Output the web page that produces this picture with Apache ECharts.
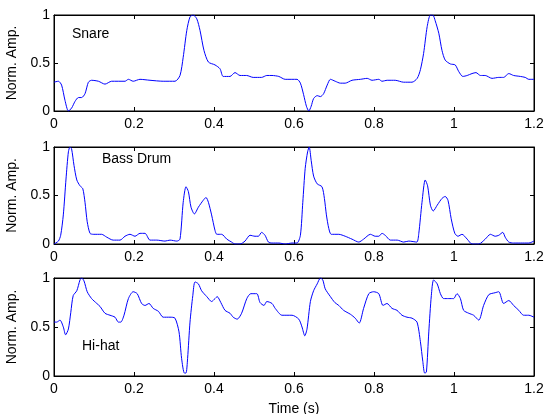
<!DOCTYPE html>
<html>
<head>
<meta charset="utf-8">
<script src="https://cdn.jsdelivr.net/npm/echarts@6/dist/echarts.min.js"></script>
<style>
html,body{margin:0;padding:0;background:#fff;}
#chart{width:544px;height:414px;}
</style>
</head>
<body>
<div id="chart"></div>
<script>
// ---- data (time in s, normalised amplitude) ----
var xTicks = [0, 0.2, 0.4, 0.6, 0.8, 1, 1.2];
var yTicks = [0, 0.5, 1];
var panelNames = ['Snare', 'Bass Drum', 'Hi-hat'];

var snareT = [0,0.011,0.019,0.0275,0.036,0.044,0.0525,0.061,0.069,0.0775,0.086,0.094,0.111,0.1275,0.144,0.1775,0.186,0.198,0.215,0.24,0.273,0.3025,0.315,0.323,0.332,0.34,0.348,0.357,0.365,0.375,0.386,0.4025,0.415,0.423,0.44,0.4525,0.465,0.4815,0.498,0.519,0.532,0.545,0.562,0.578,0.6075,0.616,0.624,0.631,0.637,0.643,0.649,0.658,0.666,0.674,0.683,0.691,0.703,0.716,0.728,0.745,0.766,0.783,0.795,0.812,0.82,0.833,0.853,0.874,0.895,0.908,0.916,0.924,0.933,0.941,0.947,0.953,0.962,0.97,0.978,0.991,1.003,1.012,1.022,1.033,1.045,1.055,1.066,1.078,1.095,1.112,1.124,1.137,1.149,1.166,1.178,1.187,1.2];
var snareA = [0.30,0.31,0.27,0.11,0.00,0.03,0.10,0.14,0.14,0.18,0.30,0.32,0.31,0.28,0.31,0.31,0.33,0.31,0.33,0.32,0.31,0.31,0.37,0.56,0.84,0.98,1.00,0.96,0.84,0.63,0.51,0.48,0.44,0.36,0.36,0.40,0.37,0.37,0.35,0.35,0.37,0.37,0.36,0.33,0.33,0.29,0.17,0.05,0.00,0.05,0.13,0.16,0.15,0.18,0.27,0.33,0.31,0.29,0.29,0.32,0.33,0.34,0.32,0.33,0.31,0.32,0.32,0.30,0.30,0.34,0.43,0.60,0.88,1.00,1.00,0.94,0.81,0.63,0.53,0.49,0.48,0.41,0.36,0.37,0.39,0.40,0.37,0.37,0.34,0.35,0.35,0.39,0.37,0.36,0.35,0.33,0.33];

var bassT = [0,0.011,0.0167,0.0233,0.03,0.036,0.04,0.044,0.05,0.057,0.065,0.072,0.0775,0.083,0.09,0.098,0.119,0.132,0.148,0.165,0.1775,0.19,0.2025,0.215,0.2275,0.24,0.257,0.2775,0.29,0.307,0.315,0.323,0.33,0.336,0.3425,0.351,0.361,0.373,0.38,0.386,0.394,0.4025,0.407,0.419,0.432,0.444,0.4525,0.465,0.4775,0.49,0.5025,0.511,0.519,0.5275,0.536,0.545,0.562,0.578,0.595,0.6075,0.616,0.622,0.628,0.634,0.638,0.643,0.649,0.658,0.67,0.676,0.681,0.687,0.693,0.712,0.728,0.745,0.762,0.774,0.791,0.803,0.812,0.82,0.828,0.841,0.858,0.874,0.887,0.907,0.912,0.92,0.928,0.934,0.941,0.948,0.958,0.97,0.978,0.985,0.993,1.002,1.01,1.02,1.033,1.045,1.062,1.078,1.091,1.103,1.112,1.122,1.128,1.137,1.149,1.166,1.187,1.2];
var bassA = [0,0.03,0.09,0.30,0.67,0.95,1.00,0.98,0.81,0.66,0.60,0.57,0.43,0.23,0.11,0.10,0.10,0.07,0.04,0.04,0.08,0.10,0.08,0.11,0.11,0.04,0.04,0.03,0.04,0.03,0.05,0.43,0.59,0.54,0.38,0.31,0.38,0.45,0.48,0.43,0.30,0.14,0.10,0.10,0.05,0.02,0,0,0.03,0.09,0.08,0.08,0.12,0.09,0.02,0.01,0.01,0,0.01,0.01,0.09,0.43,0.78,0.95,1.00,0.86,0.70,0.62,0.59,0.47,0.30,0.16,0.10,0.10,0.08,0.05,0.02,0.05,0.10,0.08,0.08,0.11,0.09,0.04,0.04,0.02,0.03,0.02,0.11,0.43,0.66,0.60,0.40,0.34,0.40,0.47,0.49,0.45,0.26,0.11,0.08,0.10,0.05,0,0,0.05,0.10,0.08,0.09,0.12,0.07,0.02,0.01,0.01,0.01,0.03];

var hatT = [0,0.0067,0.015,0.0233,0.029,0.036,0.042,0.048,0.057,0.065,0.069,0.075,0.083,0.094,0.107,0.115,0.1275,0.14,0.1525,0.161,0.167,0.175,0.186,0.198,0.208,0.219,0.2275,0.2375,0.248,0.261,0.273,0.29,0.3025,0.3125,0.319,0.326,0.33,0.334,0.34,0.347,0.3525,0.361,0.369,0.382,0.394,0.4025,0.408,0.417,0.4275,0.44,0.448,0.458,0.469,0.482,0.492,0.507,0.515,0.525,0.532,0.545,0.553,0.57,0.595,0.612,0.62,0.627,0.6325,0.641,0.649,0.658,0.666,0.672,0.678,0.691,0.702,0.712,0.724,0.741,0.753,0.763,0.774,0.787,0.799,0.812,0.8225,0.8325,0.845,0.8575,0.87,0.8825,0.895,0.9075,0.916,0.922,0.9267,0.931,0.937,0.9433,0.949,0.958,0.966,0.974,0.987,0.999,1.0075,1.016,1.024,1.037,1.049,1.062,1.074,1.087,1.103,1.112,1.124,1.137,1.149,1.162,1.174,1.187,1.2];
var hatA = [0.55,0.55,0.57,0.50,0.42,0.48,0.65,0.82,0.87,0.98,1.00,0.97,0.86,0.79,0.74,0.71,0.64,0.62,0.60,0.55,0.55,0.62,0.79,0.86,0.84,0.74,0.72,0.74,0.69,0.66,0.60,0.60,0.59,0.45,0.18,0.03,0.03,0.18,0.55,0.82,0.96,0.94,0.87,0.81,0.76,0.79,0.81,0.75,0.67,0.64,0.60,0.58,0.64,0.79,0.84,0.84,0.75,0.72,0.76,0.74,0.69,0.62,0.62,0.58,0.50,0.41,0.48,0.76,0.87,0.94,1.00,0.98,0.89,0.81,0.75,0.72,0.67,0.63,0.59,0.54,0.69,0.84,0.86,0.84,0.72,0.74,0.69,0.67,0.62,0.60,0.59,0.55,0.35,0.15,0.03,0.04,0.45,0.82,0.98,0.94,0.84,0.79,0.79,0.79,0.84,0.79,0.67,0.64,0.62,0.57,0.72,0.83,0.85,0.86,0.74,0.77,0.72,0.67,0.62,0.62,0.60];

// ---- chart ----
var FONT = 'Arial, "Liberation Sans", Helvetica, sans-serif';
var tops = [15, 147, 278];
var heights = [96, 97, 98];
var seriesT = [snareT, bassT, hatT];
var seriesA = [snareA, bassA, hatA];
var labelPos = [[72, 35], [102, 160], [82, 347]];

function pairs(t, a) { return t.map(function (v, i) { return [v, a[i]]; }); }

var grids = [], xAxes = [], yAxes = [], series = [], graphics = [];
for (var i = 0; i < 3; i++) {
  grids.push({left: 54, width: 480, top: tops[i], height: heights[i], show: true,
    borderColor: '#000', borderWidth: 1, backgroundColor: '#fff', outerBoundsMode: 'none', containLabel: false});
  var xBase = {type: 'value', gridIndex: i, min: xTicks[0], max: xTicks[xTicks.length - 1],
    interval: xTicks[1] - xTicks[0],
    axisLine: {show: true, onZero: false, lineStyle: {color: '#000', width: 1}},
    axisTick: {show: true, inside: true, length: 4, lineStyle: {color: '#000'}},
    splitLine: {show: false}};
  xAxes.push(Object.assign({}, xBase, {position: 'bottom',
    axisLabel: {show: true, color: '#000', fontSize: 14, fontFamily: FONT, margin: 6},
    name: i === 2 ? 'Time (s)' : '', nameLocation: 'middle', nameGap: 26,
    nameTextStyle: {color: '#000', fontSize: 14, fontFamily: FONT}}));
  xAxes.push(Object.assign({}, xBase, {position: 'top', axisLabel: {show: false}}));
  var yBase = {type: 'value', gridIndex: i, min: yTicks[0], max: yTicks[yTicks.length - 1],
    interval: yTicks[1] - yTicks[0],
    axisLine: {show: true, onZero: false, lineStyle: {color: '#000', width: 1}},
    axisTick: {show: true, inside: true, length: 4, lineStyle: {color: '#000'}},
    splitLine: {show: false}};
  yAxes.push(Object.assign({}, yBase, {position: 'left',
    axisLabel: {show: true, color: '#000', fontSize: 14, fontFamily: FONT, margin: 4},
    name: 'Norm. Amp.', nameLocation: 'middle', nameGap: 27, nameRotate: 90,
    nameTextStyle: {color: '#000', fontSize: 14, fontFamily: FONT}}));
  yAxes.push(Object.assign({}, yBase, {position: 'right', axisLabel: {show: false}}));
  series.push({type: 'line', xAxisIndex: 2 * i, yAxisIndex: 2 * i, data: pairs(seriesT[i], seriesA[i]),
    showSymbol: false, symbol: 'none', smooth: 0.25, clip: true,
    lineStyle: {color: '#0000ff', width: 1}, animation: false});
  graphics.push({type: 'text', left: labelPos[i][0], top: labelPos[i][1] - 8,
    style: {text: panelNames[i], fill: '#000', font: '14px ' + FONT}});
}

var chart = echarts.init(document.getElementById('chart'), null, {renderer: 'canvas'});
chart.setOption({
  backgroundColor: '#fff',
  animation: false,
  grid: grids,
  xAxis: xAxes,
  yAxis: yAxes,
  series: series,
  graphic: graphics
});
</script>
</body>
</html>
